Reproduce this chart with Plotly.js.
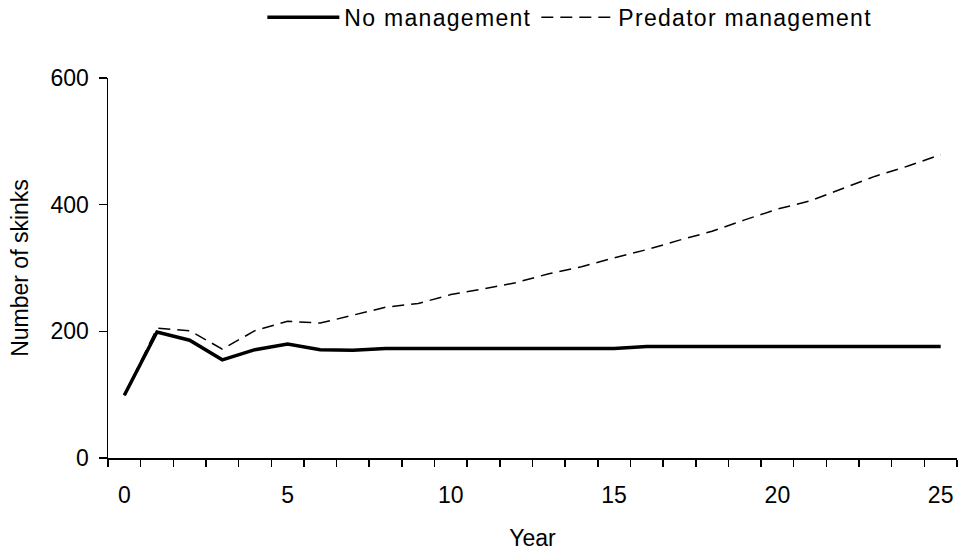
<!DOCTYPE html>
<html>
<head>
<meta charset="utf-8">
<script src="https://cdn.plot.ly/plotly-3.0.1.min.js"></script>
<style>
html, body { margin: 0; padding: 0; background: #fff; }
svg text.legendtext { letter-spacing: 1.3px; }
</style>
</head>
<body>
<div id="chart" style="width:966px;height:551px;"></div>
<script>
const years = [0,1,2,3,4,5,6,7,8,9,10,11,12,13,14,15,16,17,18,19,20,21,22,23,24,25];
const noManagement = [99,199,186,155,171,180,171,170,173,173,173,173,173,173,173,173,176,176,176,176,176,176,176,176,176,176];
const predatorManagement = [99,205,201,172,201,216,213,226,238,244,258,267,277,291,302,316,329,344,358,376,393,406,426,445,461,479];
const xTickVals = [0,5,10,15,20,25];
const yTickVals = [0,200,400,600];

const font = {family: 'Liberation Sans, Arial, sans-serif', size: 23, color: '#000'};

const traces = [
  {x: years, y: noManagement, name: 'No management', type: 'scatter', mode: 'lines',
   line: {color: '#000', width: 3.5}},
  {x: years, y: predatorManagement, name: 'Predator management', type: 'scatter', mode: 'lines',
   line: {color: '#000', width: 1.5, dash: '12px,7px'}}
];

const layout = {
  width: 966, height: 551,
  paper_bgcolor: '#fff', plot_bgcolor: '#fff',
  margin: {l: 108, r: 9, t: 78, b: 93, autoexpand: false},
  font: font,
  showlegend: true,
  legend: {orientation: 'h', x: 0.544, xanchor: 'center', y: 1.16, yanchor: 'middle',
           font: font, itemwidth: 72, bgcolor: 'rgba(0,0,0,0)'},
  xaxis: {
    range: [-0.5, 25.5], tickmode: 'array', tickvals: xTickVals,
    ticks: 'outside', ticklen: 0, ticklabelstandoff: 16,
    showline: true, linecolor: '#000', linewidth: 1.5,
    showgrid: false, zeroline: false,
    minor: {ticks: 'outside', ticklen: 7, tickwidth: 1.5, tickcolor: '#000',
            tickmode: 'linear', tick0: -0.5, dtick: 1, showgrid: false},
    title: {text: 'Year', font: font, standoff: 24},
    tickfont: font
  },
  yaxis: {
    range: [0, 600], tickmode: 'array', tickvals: yTickVals,
    ticks: 'outside', ticklen: 8, tickwidth: 1.5, tickcolor: '#000', ticklabelstandoff: 5,
    showline: true, linecolor: '#000', linewidth: 1.5,
    showgrid: false, zeroline: false,
    title: {text: 'Number of skinks', font: font, standoff: 15},
    tickfont: font
  }
};

Plotly.newPlot('chart', traces, layout, {displayModeBar: false, staticPlot: true});
</script>
</body>
</html>
